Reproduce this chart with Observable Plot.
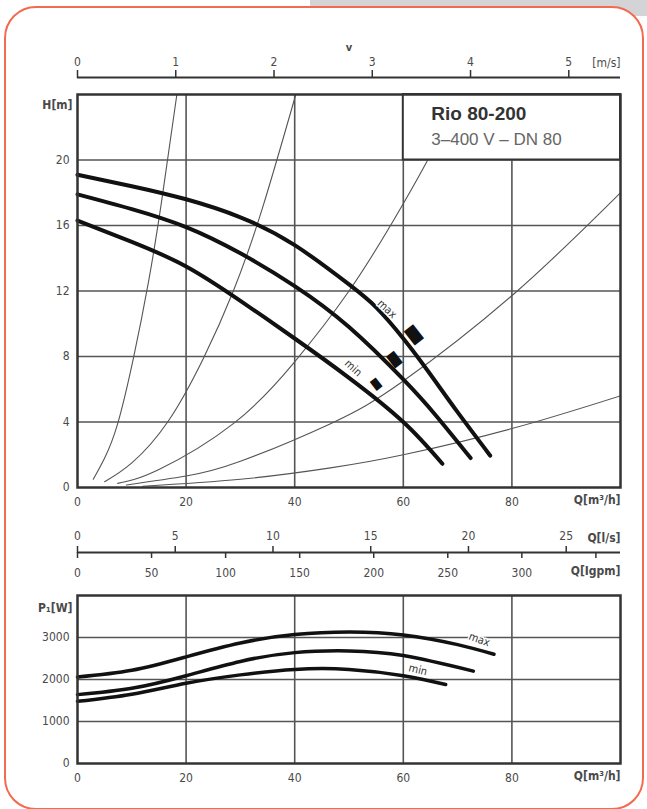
<!DOCTYPE html>
<html><head><meta charset="utf-8">
<script src="https://cdn.jsdelivr.net/npm/d3@7"></script>
<script src="https://cdn.jsdelivr.net/npm/@observablehq/plot@0.6"></script>
<style>
html,body{margin:0;padding:0;background:#fff}
body{width:647px;height:809px;overflow:hidden;position:relative;font-family:"DejaVu Sans Condensed",sans-serif}
#gray{position:absolute;left:310px;top:0;width:337px;height:16px;background:#d4d4d6}
#card{position:absolute;left:4px;top:6px;width:636px;height:800px;border:2px solid #f26b4f;border-radius:32px;background:#fff}
.p{position:absolute;left:0}
.p svg{overflow:visible}
</style></head><body>
<div id="gray"></div><div id="card"></div>
<div id="vaxis" class="p" style="top:0"></div>
<div id="main" class="p" style="top:85px"></div>
<div id="ls" class="p" style="top:500px"></div>
<div id="igpm" class="p" style="top:500px"></div>
<div id="power" class="p" style="top:585px"></div>
<script>
// ---------- data ----------
const headMaxQ = [0, 10, 20, 30, 40, 50, 55, 60, 65, 70, 76];
const headMaxH = [19.1, 18.4, 17.6, 16.5, 14.8, 12.4, 11.0, 9.1, 6.9, 4.6, 1.95];
const headMidQ = [0, 10, 20, 30, 40, 50, 60, 66, 72.4];
const headMidH = [17.9, 17.0, 15.9, 14.3, 12.3, 9.8, 6.6, 4.4, 1.8];
const headMinQ = [0, 10, 20, 30, 40, 50, 60, 67.2];
const headMinH = [16.3, 15.0, 13.5, 11.4, 9.1, 6.7, 4.0, 1.45];

// system (pipe) curves
const sys1Q = [2.9, 5, 7.4, 10.3, 13.1, 15.5, 18.3];
const sys1H = [0.5, 1.8, 3.9, 7.9, 12.6, 17.5, 24];
const sys2Q = [5, 10, 16.6, 23.2, 28.7, 34, 40.2];
const sys2H = [0.35, 1.5, 4, 7.9, 12, 17, 24];
const sys3Q = [7.4, 15, 28.7, 39.8, 50, 58, 64.5, 70.7];
const sys3H = [0.25, 1.1, 3.9, 7.6, 12, 16.2, 20, 24];
const sys4Q = [9, 20, 30, 46.6, 60, 80.3, 100];
const sys4H = [0.15, 0.7, 1.6, 3.9, 6.5, 11.8, 18];
const sys5Q = [12, 30, 46.6, 60, 80, 100];
const sys5H = [0.08, 0.5, 1.2, 2, 3.6, 5.6];

// markers on the head curves (Q, H)
const markerQ = [62.0, 58.4, 55.0];
const markerH = [9.3, 7.8, 6.3];
const headLabelText = ["max", "min"];
const headLabelQ = [57, 50.8];
const headLabelH = [10.9, 7.3];

// power curves P1 [W]
const powMaxQ = [0, 10, 20, 30, 40, 50, 60, 70, 76.7];
const powMaxP = [2060, 2220, 2540, 2870, 3070, 3130, 3060, 2830, 2600];
const powMidQ = [0, 10, 20, 30, 40, 50, 60, 72.9];
const powMidP = [1640, 1790, 2090, 2430, 2640, 2680, 2570, 2200];
const powMinQ = [0, 10, 20, 30, 40, 50, 60, 67.8];
const powMinP = [1480, 1650, 1910, 2110, 2240, 2240, 2090, 1880];
const powLabelText = ["max", "min"];
const powLabelQ = [74, 62.7];
const powLabelP = [2950, 2230];

// ticks
const qTicks = [0, 20, 40, 60, 80];
const hTicks = [0, 4, 8, 12, 16, 20];
const pTicks = [0, 1000, 2000, 3000];
const vTicks = [0, 1, 2, 3, 4, 5];
const lsTicks = [0, 5, 10, 15, 20, 25];
const igpmTicks = [0, 50, 100, 150, 200, 250, 300, 350];
const igpmLabels = [0, 50, 100, 150, 200, 250, 300];

const title = "Rio 80-200";
const subtitle = "3–400 V – DN 80";

// ---------- layout / style constants ----------
const W = 647, ML = 77, MR = 27;
const QMAX = 100;
const vMax = QMAX / 3600 / (Math.PI * 0.08 * 0.08 / 4); // DN80 velocity at Q max
const lsMax = QMAX / 3.6;
const igpmMax = QMAX * 1000 / 60 / 4.54609;
const legendBox = {x1: 60, x2: 100, y1: 20, y2: 24};
const markerFont = [15, 12.5, 9.5];
const labelAngle = 43;
const markerAngle = -38;
const powLabelAngle = [20, 14];
const FONT = "DejaVu Sans Condensed";
const TXT = "#4a4a4a";
const GRID = "#555";
const style = {fontFamily: FONT, fontSize: "12px", color: TXT, background: "transparent", overflow: "visible"};
const fmt = d => String(d);

const zip = (name, qs, vs) => qs.map((q, i) => ({name, q, v: vs[i]}));
const headRows = [
  ...zip("max", headMaxQ, headMaxH),
  ...zip("mid", headMidQ, headMidH),
  ...zip("min", headMinQ, headMinH)
];
const sysRows = [
  ...zip("s1", sys1Q, sys1H), ...zip("s2", sys2Q, sys2H), ...zip("s3", sys3Q, sys3H),
  ...zip("s4", sys4Q, sys4H), ...zip("s5", sys5Q, sys5H)
];
const powRows = [
  ...zip("max", powMaxQ, powMaxP),
  ...zip("mid", powMidQ, powMidP),
  ...zip("min", powMinQ, powMinP)
];
const markers = markerQ.map((q, i) => ({q, v: markerH[i], s: markerFont[i]}));
const headLabels = headLabelText.map((t, i) => ({t, q: headLabelQ[i], v: headLabelH[i]}));
const powLabels = powLabelText.map((t, i) => ({t, q: powLabelQ[i], v: powLabelP[i], a: powLabelAngle[i]}));

// ---------- top velocity axis ----------
document.getElementById("vaxis").append(Plot.plot({
  width: W, height: 90, marginLeft: ML, marginRight: MR, marginTop: 77, marginBottom: 0,
  style,
  x: {domain: [0, vMax], label: null},
  y: {domain: [0, 1], axis: null, label: null},
  marks: [
    Plot.ruleY([1], {stroke: "#333", strokeWidth: 2}),
    Plot.axisX(vTicks, {anchor: "top", label: null, tickSize: 8, tickPadding: 4, stroke: "#333", strokeWidth: 1.5, fill: TXT, tickFormat: fmt}),
    Plot.text(["[m/s]"], {frameAnchor: "top-right", dy: -19, textAnchor: "end", fill: TXT}),
    Plot.text(["v"], {frameAnchor: "top", dy: -34, fill: TXT, fontWeight: "bold", fontSize: 11})
  ]
}));

// ---------- main H-Q chart ----------
document.getElementById("main").append(Plot.plot({
  width: W, height: 430, marginLeft: ML, marginRight: MR, marginTop: 9, marginBottom: 28,
  style,
  x: {domain: [0, QMAX], label: null},
  y: {domain: [0, 24], label: null},
  marks: [
    Plot.gridX(qTicks.filter(d => d > 0), {stroke: GRID, strokeOpacity: 1, strokeWidth: 1.6}),
    Plot.gridY(hTicks.filter(d => d > 0), {stroke: GRID, strokeOpacity: 1, strokeWidth: 1.6}),
    Plot.line(sysRows, {x: "q", y: "v", z: "name", curve: "natural", stroke: "#555", strokeWidth: 1.1, clip: true}),
    Plot.line(headRows, {x: "q", y: "v", z: "name", curve: "natural", stroke: "#111", strokeWidth: 4, strokeLinecap: "round"}),
    Plot.text(markers, {x: "q", y: "v", text: () => "█", rotate: markerAngle, fontFamily: "DejaVu Sans", fontSize: d => d.s, fill: "#111"}),
    Plot.text(headLabels, {x: "q", y: "v", text: "t", rotate: labelAngle, fontSize: 11, fill: "#333", stroke: "white", strokeWidth: 3, paintOrder: "stroke"}),
    Plot.rect([legendBox], {x1: "x1", x2: "x2", y1: "y1", y2: "y2", fill: "white", stroke: "#333", strokeWidth: 2}),
    Plot.text([title], {x: legendBox.x1, y: legendBox.y2, dx: 28, dy: 19, textAnchor: "start", fontFamily: "Liberation Sans", fontWeight: "bold", fontSize: 19, fill: "#333"}),
    Plot.text([subtitle], {x: legendBox.x1, y: legendBox.y2, dx: 28, dy: 45, textAnchor: "start", fontFamily: "Liberation Sans", fontSize: 17, fill: "#666"}),
    Plot.frame({stroke: "#333", strokeWidth: 2.5}),
    Plot.axisX(qTicks, {label: null, tickSize: 0, tickPadding: 10, fill: TXT, tickFormat: fmt}),
    Plot.axisY(hTicks, {label: null, tickSize: 0, tickPadding: 8, fill: TXT, tickFormat: fmt}),
    Plot.text(["Q[m³/h]"], {frameAnchor: "bottom-right", dy: 16, textAnchor: "end", fill: TXT, fontWeight: "bold"}),
    Plot.text(["H[m]"], {frameAnchor: "top-left", dx: -5, dy: 6, textAnchor: "end", fill: TXT, fontWeight: "bold"})
  ]
}));

// ---------- l/s axis ----------
document.getElementById("ls").append(Plot.plot({
  width: W, height: 60, marginLeft: ML, marginRight: MR, marginTop: 52, marginBottom: 8,
  style,
  x: {domain: [0, lsMax], label: null},
  y: {domain: [0, 1], axis: null, label: null},
  marks: [
    Plot.axisX(lsTicks, {anchor: "top", label: null, tickSize: 7, tickPadding: 6, stroke: "#333", strokeWidth: 1.5, fill: TXT, tickFormat: fmt}),
    Plot.text(["Q[l/s]"], {frameAnchor: "top-right", dy: -19, textAnchor: "end", fill: TXT, fontWeight: "bold"})
  ]
}));

// ---------- Igpm axis ----------
document.getElementById("igpm").append(Plot.plot({
  width: W, height: 85, marginLeft: ML, marginRight: MR, marginTop: 44, marginBottom: 33,
  style,
  x: {domain: [0, igpmMax], label: null},
  y: {domain: [0, 1], axis: null, label: null},
  marks: [
    Plot.ruleY([0], {stroke: "#333", strokeWidth: 2}),
    Plot.axisX(igpmTicks, {anchor: "bottom", label: null, tickSize: 6, tickPadding: 10, stroke: "#333", strokeWidth: 1.5, fill: TXT, tickFormat: d => igpmLabels.includes(d) ? String(d) : ""}),
    Plot.text(["Q[Igpm]"], {frameAnchor: "bottom-right", dy: 22, textAnchor: "end", fill: TXT, fontWeight: "bold"})
  ]
}));

// ---------- power chart ----------
document.getElementById("power").append(Plot.plot({
  width: W, height: 210, marginLeft: ML, marginRight: MR, marginTop: 10, marginBottom: 32,
  style,
  x: {domain: [0, QMAX], label: null},
  y: {domain: [0, 4000], label: null},
  marks: [
    Plot.gridX(qTicks.filter(d => d > 0), {stroke: GRID, strokeOpacity: 1, strokeWidth: 1.6}),
    Plot.gridY(pTicks.filter(d => d > 0), {stroke: GRID, strokeOpacity: 1, strokeWidth: 1.6}),
    Plot.line(powRows, {x: "q", y: "v", z: "name", curve: "natural", stroke: "#111", strokeWidth: 3.5, strokeLinecap: "round"}),
    Plot.text(powLabels, {x: "q", y: "v", text: "t", rotate: d => d.a, fontSize: 11, fill: "#333", stroke: "white", strokeWidth: 3, paintOrder: "stroke"}),
    Plot.frame({stroke: "#333", strokeWidth: 2.5}),
    Plot.axisX(qTicks, {label: null, tickSize: 0, tickPadding: 10, fill: TXT, tickFormat: fmt}),
    Plot.axisY(pTicks, {label: null, tickSize: 0, tickPadding: 8, fill: TXT, tickFormat: fmt}),
    Plot.text(["Q[m³/h]"], {frameAnchor: "bottom-right", dy: 16, textAnchor: "end", fill: TXT, fontWeight: "bold"}),
    Plot.text(["P₁[W]"], {frameAnchor: "top-left", dx: -5, dy: 8, textAnchor: "end", fill: TXT, fontWeight: "bold"})
  ]
}));
</script>
</body></html>
